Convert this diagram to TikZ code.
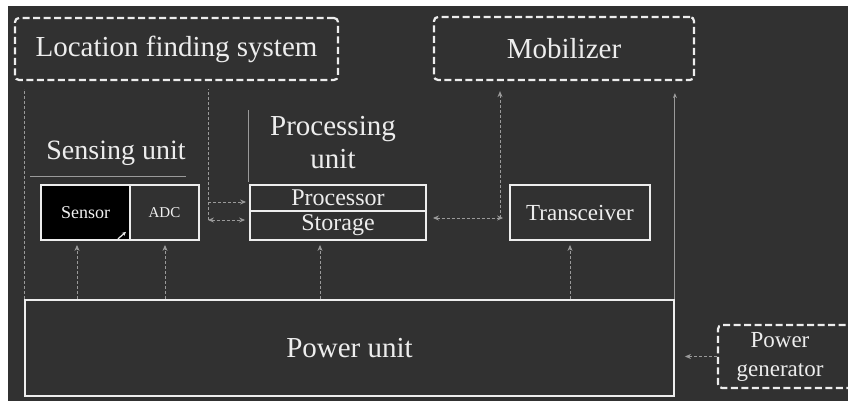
\documentclass[tikz,border=0pt]{standalone}
\usepackage{fontspec}
\setmainfont{Liberation Serif}
\usetikzlibrary{arrows.meta,calc}
\definecolor{bgdark}{HTML}{313131}
\definecolor{ink}{HTML}{EDEDED}
\definecolor{faint}{HTML}{9A9A9A}
\begin{document}
\begin{tikzpicture}[x=1pt,y=-1pt,
  box/.style={draw=ink,line width=1.8pt,inner sep=0pt,text=ink},
  dbox/.style={draw=ink,line width=2.2pt,dash pattern=on 7pt off 3.5pt,
    rounded corners=4pt,inner sep=0pt,text=ink},
  conn/.style={draw=faint,line width=1pt,dash pattern=on 3pt off 2pt},
  arr/.style={conn,-{Stealth[length=6pt,width=5pt]}},
  darr/.style={conn,{Stealth[length=6pt,width=5pt]}-{Stealth[length=6pt,width=5pt]}},
  ttl/.style={text=ink,inner sep=0pt,align=center},
  big/.style={font=\fontsize{29}{33}\selectfont},
]
% page and dark panel
\useasboundingbox (0,0) rectangle (848,401);
\clip (0,0) rectangle (848,401);
\fill[white] (0,0) rectangle (848,401);
\fill[bgdark] (8,6) rectangle (848,401);

% top blocks
\node[dbox,big,minimum width=323pt,minimum height=62pt] (loc) at (176.5,49) {Location finding system};
\node[dbox,big,minimum width=260pt,minimum height=63pt] (mob) at (564,48.5) {Mobilizer};

% group labels
\node[ttl,font=\fontsize{28}{33}\selectfont] (slabel) at (116,153) {Sensing unit};
\node[ttl,big] (plabel) at (333,143) {Processing\\unit};
\coordinate (su1) at (30,176);
\coordinate (su2) at (186,176);
\coordinate (pb1) at (248,110);
\coordinate (pb2) at (248,182);
\draw[faint,line width=0.8pt] (su1) -- (su2);
\draw[faint,line width=0.8pt] (pb1) -- (pb2);

% sensing unit
\node[box,fill=black,minimum width=89pt,minimum height=55pt,
  font=\fontsize{18}{20}\selectfont,text=ink!80] (sen) at (85.5,212.5) {Sensor};
\node[box,minimum width=69pt,minimum height=55pt,
  font=\fontsize{15}{18}\selectfont,text=ink!85] (adc) at (164.5,212.5) {ADC};
\draw[ink,line width=1.2pt,-{Stealth[length=4pt,width=4pt]}]
  ($(sen.south east)+(-13,-2)$) -- ($(sen.south east)+(-5,-9)$);

% processing unit
\node[box,minimum width=176pt,minimum height=26pt,
  font=\fontsize{24}{26}\selectfont] (proc) at (338,198) {Processor};
\node[box,minimum width=176pt,minimum height=29pt,
  font=\fontsize{24}{26}\selectfont] (stor) at (338,225.5) {Storage};

% transceiver
\node[box,minimum width=140pt,minimum height=55pt,
  font=\fontsize{23}{26}\selectfont] (trx) at (580,212.5) {Transceiver};

% power
\node[box,big,minimum width=649pt,minimum height=96pt] (pw) at (349.5,348) {Power unit};
\node[dbox,minimum width=142pt,minimum height=63pt] (gen) at (789,356.5) {};
\node[ttl,font=\fontsize{23}{29}\selectfont] (gtxt) at (780,357) {Power\\generator};

% helper positions
\coordinate (xs) at (77,0);
\coordinate (xa) at (165,0);
\coordinate (xp) at (320,0);
\coordinate (xt) at (570,0);
\coordinate (xl) at (208,0);
\coordinate (xm) at (500,0);
\coordinate (y1) at (0,202);
\coordinate (y2) at (0,220);
\coordinate (y3) at (0,218);

% supply lines from the power unit
\draw[arr] (pw.north -| xs) -- ([yshift=-4pt]sen.south -| xs);
\draw[arr] (pw.north -| xa) -- ([yshift=-4pt]adc.south -| xa);
\draw[arr] (pw.north -| xp) -- ([yshift=-4pt]stor.south -| xp);
\draw[arr] (pw.north -| xt) -- ([yshift=-4pt]trx.south -| xt);
\draw[arr,shorten >=10pt] (gen.west) -- (pw.east |- gen.west);

% data paths
\draw[arr,shorten <=8pt,shorten >=3pt] (adc.east |- y1) -- (proc.west |- y1);
\draw[darr,shorten <=8pt,shorten >=4pt] (adc.east |- y2) -- (stor.west |- y2);
\draw[darr,shorten <=6pt,shorten >=6pt] (stor.east |- y3) -- (trx.west |- y3);

% links to location finding system and mobilizer
\draw[conn,shorten >=8pt] (pw.north west) -- (pw.north west |- loc.south);
\draw[conn,shorten >=8pt] (xl |- y2) -- (xl |- loc.south);
\draw[arr,shorten >=10pt] (xm |- y3) -- (xm |- mob.south);
\draw[faint,line width=0.9pt,-{Stealth[length=5pt,width=4pt]},shorten >=12pt]
  (pw.north east) -- (pw.north east |- mob.south);
\end{tikzpicture}
\end{document}
